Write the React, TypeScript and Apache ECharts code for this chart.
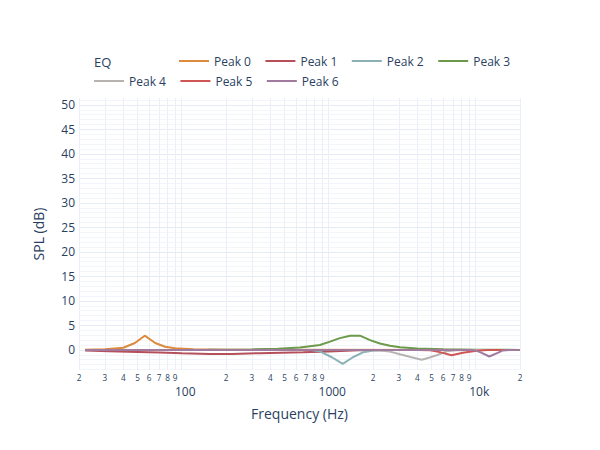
import React, { useEffect, useRef } from "react";
import * as echarts from "echarts";

const SERIES_NAMES = ["Peak 0", "Peak 1", "Peak 2", "Peak 3", "Peak 4", "Peak 5", "Peak 6"];
const SERIES_COLORS = ["#dc8a3c", "#b5505a", "#8bb1b7", "#6b9a4b", "#b6b3b1", "#d05656", "#a27a9e"];

// Frequencies (Hz) and gains (dB)
const PEAK0_F = [22, 30, 40, 48, 56, 66, 77, 90, 120, 200, 20000];
const PEAK0_DB = [0.05, 0.15, 0.45, 1.4, 2.9, 1.4, 0.65, 0.35, 0.15, 0.05, 0];

const PEAK1_F = [22, 32, 50, 71, 100, 155, 220, 340, 670, 1000, 1600, 2500, 20000];
const PEAK1_DB = [-0.1, -0.27, -0.42, -0.55, -0.7, -0.85, -0.82, -0.67, -0.47, -0.3, -0.08, 0, 0];

const PEAK2_F = [22, 750, 870, 1050, 1245, 1460, 1710, 2010, 2600, 20000];
const PEAK2_DB = [0, 0, -0.3, -1.5, -2.85, -1.5, -0.5, -0.1, 0, 0];

const PEAK3_F = [22, 150, 300, 450, 637, 871, 1020, 1190, 1400, 1630, 1910, 2230, 2610, 3050, 4000, 6000, 10000, 20000];
const PEAK3_DB = [0, 0.02, 0.1, 0.25, 0.47, 1.0, 1.7, 2.4, 2.9, 2.9, 2.0, 1.3, 0.85, 0.55, 0.3, 0.15, 0.05, 0];

const PEAK4_F = [22, 1500, 2230, 2600, 3050, 3600, 4290, 4800, 5420, 6330, 7400, 9000, 20000];
const PEAK4_DB = [0, 0, -0.1, -0.35, -0.9, -1.45, -2.0, -1.6, -1.1, -0.3, -0.05, 0, 0];

const PEAK5_F = [22, 4000, 4900, 5700, 6850, 8180, 10150, 12000, 20000];
const PEAK5_DB = [0, 0, -0.05, -0.45, -1.1, -0.6, -0.15, 0, 0];

const PEAK6_F = [22, 9000, 9750, 10690, 12370, 14230, 15300, 17000, 20000];
const PEAK6_DB = [0, 0, -0.05, -0.45, -1.35, -0.55, -0.1, 0, 0];

const SERIES_F = [PEAK0_F, PEAK1_F, PEAK2_F, PEAK3_F, PEAK4_F, PEAK5_F, PEAK6_F];
const SERIES_DB = [PEAK0_DB, PEAK1_DB, PEAK2_DB, PEAK3_DB, PEAK4_DB, PEAK5_DB, PEAK6_DB];

// Axis ticks
const X_GRID_TICKS = [
  20, 30, 40, 50, 60, 70, 80, 90,
  100, 200, 300, 400, 500, 600, 700, 800, 900,
  1000, 2000, 3000, 4000, 5000, 6000, 7000, 8000, 9000,
  10000, 20000,
];
const X_DIGIT_LABELS = [
  20, 30, 40, 50, 60, 70, 80, 90,
  200, 300, 400, 500, 600, 700, 800, 900,
  2000, 3000, 4000, 5000, 6000, 7000, 8000, 9000,
  20000,
];
const X_DECADE_LABELS = [100, 1000, 10000];
const X_DECADE_TEXT = ["100", "1000", "10k"];
const Y_LABELS = [0, 5, 10, 15, 20, 25, 30, 35, 40, 45, 50];
const Y_MINOR = [-4, -3, -2, -1, 0, 1, 2, 3, 4, 5, 6, 7, 8, 9, 10, 11, 12, 13, 14, 15, 16, 17, 18, 19, 20,
  21, 22, 23, 24, 25, 26, 27, 28, 29, 30, 31, 32, 33, 34, 35, 36, 37, 38, 39, 40, 41, 42, 43, 44, 45,
  46, 47, 48, 49, 50, 51];

const X_MIN = 20;
const X_MAX = 20000;
const Y_MIN = -4.1;
const Y_MAX = 51.4;

const FONT = "'Open Sans', verdana, arial, sans-serif";
const TEXT_COLOR = "#2a3f5f";

export default function App() {
  const ref = useRef<HTMLDivElement>(null);

  useEffect(() => {
    if (!ref.current) return;
    const chart = echarts.init(ref.current, null, { renderer: "svg" });

    const series = SERIES_NAMES.map((name, i) => ({
      name,
      type: "line",
      xAxisIndex: 0,
      yAxisIndex: 0,
      symbol: "none",
      showSymbol: false,
      color: SERIES_COLORS[i],
      lineStyle: { width: 2, color: SERIES_COLORS[i] },
      data: SERIES_F[i].map((f, j) => [f, SERIES_DB[i][j]]),
    }));

    const legendCommon = {
      orient: "horizontal",
      icon: "rect",
      itemWidth: 30,
      itemHeight: 2,
      itemGap: 14.5,
      padding: 0,
      textStyle: { fontSize: 12, color: TEXT_COLOR, fontFamily: FONT },
    };

    chart.setOption({
      animation: false,
      backgroundColor: "#ffffff",
      textStyle: { fontFamily: FONT },
      title: {
        text: "EQ",
        left: 94,
        top: 55,
        padding: 0,
        textStyle: { fontSize: 13, fontWeight: "normal", color: TEXT_COLOR, fontFamily: FONT },
      },
      legend: [
        { ...legendCommon, data: SERIES_NAMES.slice(0, 4), left: 179, top: 55 },
        { ...legendCommon, data: SERIES_NAMES.slice(4), left: 94, top: 75 },
      ],
      grid: { left: 79, right: 80, top: 98, bottom: 80, containLabel: false },
      xAxis: [
        {
          type: "log",
          logBase: 10,
          min: X_MIN,
          max: X_MAX,
          position: "bottom",
          name: "Frequency (Hz)",
          nameLocation: "middle",
          nameGap: 36,
          nameTextStyle: { fontSize: 14, color: TEXT_COLOR, fontFamily: FONT },
          axisLine: { show: false },
          axisTick: { show: false, customValues: X_GRID_TICKS },
          splitLine: { show: true, lineStyle: { color: "#ebf0f8", width: 1 } },
          axisLabel: {
            customValues: X_DIGIT_LABELS,
            fontSize: 8.2,
            lineHeight: 9,
            margin: 3,
            color: TEXT_COLOR,
            fontFamily: FONT,
            formatter: (v: number) => String(Math.round(v / Math.pow(10, Math.floor(Math.log10(v) + 1e-9)))),
          },
        },
        {
          type: "log",
          logBase: 10,
          min: X_MIN,
          max: X_MAX,
          position: "bottom",
          axisLine: { show: false },
          axisTick: { show: false, customValues: X_DECADE_LABELS },
          splitLine: { show: false },
          axisLabel: {
            customValues: X_DECADE_LABELS,
            fontSize: 12,
            lineHeight: 12,
            margin: 15,
            padding: [0, 0, 0, 7],
            color: TEXT_COLOR,
            fontFamily: FONT,
            formatter: (v: number) => {
              const idx = X_DECADE_LABELS.findIndex((d) => Math.abs(d - v) / d < 1e-6);
              return idx >= 0 ? X_DECADE_TEXT[idx] : "";
            },
          },
        },
      ],
      yAxis: [
        {
          type: "value",
          min: Y_MIN,
          max: Y_MAX,
          position: "left",
          axisLine: { show: false },
          axisTick: { show: false, customValues: Y_MINOR },
          axisLabel: { show: false },
          splitLine: { show: true, lineStyle: { color: "#f2f5fa", width: 1 } },
        },
        {
          type: "value",
          min: Y_MIN,
          max: Y_MAX,
          position: "left",
          name: "SPL (dB)",
          nameLocation: "middle",
          nameGap: 34,
          nameTextStyle: { fontSize: 14, color: TEXT_COLOR, fontFamily: FONT },
          axisLine: { show: false },
          axisTick: { show: false, customValues: Y_LABELS },
          axisLabel: {
            customValues: Y_LABELS,
            fontSize: 12,
            margin: 4,
            color: TEXT_COLOR,
            fontFamily: FONT,
          },
          splitLine: { show: true, lineStyle: { color: "#e6ecf5", width: 1 } },
        },
      ],
      series,
    });

    return () => chart.dispose();
  }, []);

  return <div ref={ref} style={{ width: 600, height: 450, margin: -8 }} />;
}
